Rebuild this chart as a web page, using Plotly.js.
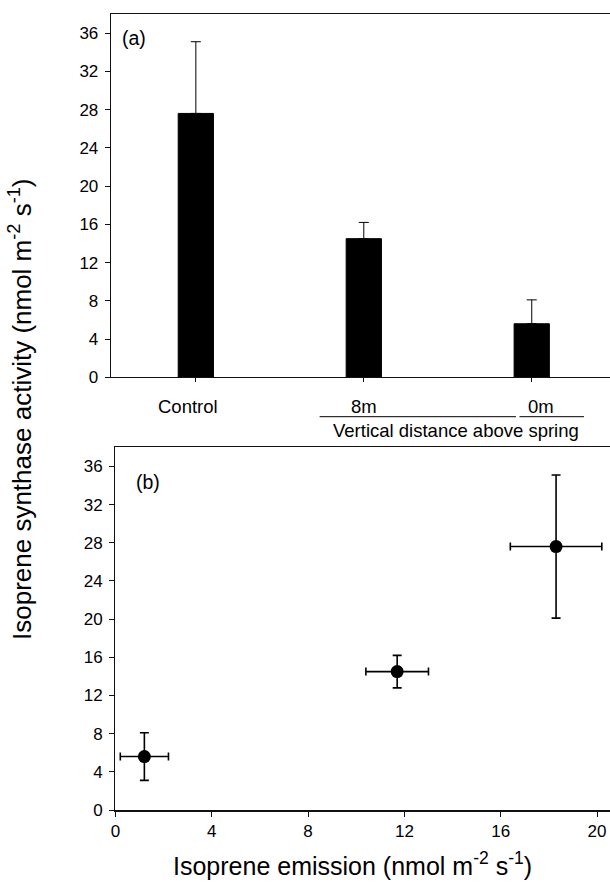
<!DOCTYPE html>
<html><head><meta charset="utf-8">
<script src="https://cdn.plot.ly/plotly-3.0.1.min.js"></script>
<style>html,body{margin:0;padding:0;background:#fff;overflow:hidden}</style>
</head><body><div id="chart" style="width:610px;height:886px"></div>
<script>
// ---- data ----
const categories = ['Control', '8m', '0m'];
const activity = [27.6, 14.5, 5.6];          // isoprene synthase activity
const activityErr = [7.5, 1.7, 2.5];
const activityErrMinus = [0, 0, 0];
const emission = [18.3, 11.7, 1.2];           // isoprene emission
const emissionErr = [1.9, 1.3, 1.0];
const yTicks = [0, 4, 8, 12, 16, 20, 24, 28, 32, 36];
const xTicks = [0, 4, 8, 12, 16, 20];

const W = 610, H = 886;
const FONT = 'Liberation Sans, Arial, sans-serif';
function P(px, py) { return {x: px / W, y: 1 - py / H, xref: 'paper', yref: 'paper'}; }

const traces = [
  {
    type: 'bar', x: categories, y: activity, xaxis: 'x', yaxis: 'y',
    width: 0.21,
    marker: {color: '#000', line: {color: '#000', width: 1}},
    error_y: {type: 'data', array: activityErr, arrayminus: activityErrMinus, symmetric: false,
              color: '#000', thickness: 1, width: 5},
    showlegend: false, hoverinfo: 'x+y'
  },
  {
    type: 'scatter', mode: 'markers', x: emission, y: activity, xaxis: 'x2', yaxis: 'y2',
    marker: {color: '#000', size: 13},
    error_y: {type: 'data', array: activityErr, color: '#000', thickness: 1.6, width: 4.5},
    error_x: {type: 'data', array: emissionErr, color: '#000', thickness: 1.6, width: 4},
    showlegend: false
  }
];

const axCommon = {
  showgrid: false, zeroline: false, showline: true, linecolor: '#111',
  ticks: 'outside', tickcolor: '#111', tickwidth: 1, automargin: false,
  tickfont: {family: FONT, size: 17, color: '#000'}
};

const labelShift = [-8, 0, 9];
const annotations = [];
categories.forEach((c, i) => {
  annotations.push({x: c, xref: 'x', y: 1 - 407 / H, yref: 'paper', text: c, showarrow: false,
    xshift: labelShift[i], xanchor: 'center', yanchor: 'middle',
    font: {family: FONT, size: 18.5, color: '#000'}});
});
annotations.push(Object.assign(P(455.5, 430), {text: 'Vertical distance above spring', showarrow: false,
  xanchor: 'center', yanchor: 'middle', font: {family: FONT, size: 18.5, color: '#000'}}));
annotations.push(Object.assign(P(134, 38), {text: '(a)', showarrow: false,
  xanchor: 'center', yanchor: 'middle', font: {family: FONT, size: 19.5, color: '#000'}}));
annotations.push(Object.assign(P(147.5, 482), {text: '(b)', showarrow: false,
  xanchor: 'center', yanchor: 'middle', font: {family: FONT, size: 19.5, color: '#000'}}));
annotations.push(Object.assign(P(20, 409), {text: 'Isoprene synthase activity (nmol m<sup>-2</sup> s<sup>-1</sup>)',
  showarrow: false, textangle: -90, xanchor: 'center', yanchor: 'middle',
  font: {family: FONT, size: 26, color: '#000'}}));
annotations.push(Object.assign(P(352, 864), {text: 'Isoprene emission (nmol m<sup>-2</sup> s<sup>-1</sup>)',
  showarrow: false, xanchor: 'center', yanchor: 'middle',
  font: {family: FONT, size: 25, color: '#000'}}));

const layout = {
  width: W, height: H,
  margin: {l: 0, r: 0, t: 0, b: 0, pad: 0},
  paper_bgcolor: '#fff', plot_bgcolor: '#fff',
  font: {family: FONT, color: '#000'},
  showlegend: false,
  xaxis: Object.assign({}, axCommon, {
    domain: [110.7 / W, 1], anchor: 'y', type: 'category', categoryorder: 'array', categoryarray: categories,
    range: [-0.507, 2.466], mirror: true, ticklen: 4, showticklabels: false, linewidth: 1
  }),
  yaxis: Object.assign({}, axCommon, {
    domain: [1 - 377.3 / H, 1 - 14 / H], anchor: 'x', range: [0, 38],
    tickvals: yTicks, ticklen: 5, linewidth: 1, ticklabelstandoff: 3
  }),
  xaxis2: Object.assign({}, axCommon, {
    domain: [115 / W, 1], anchor: 'y2', range: [-0.02, 20.54],
    tickvals: xTicks, ticklen: 5, mirror: true, linewidth: 1.5
  }),
  yaxis2: Object.assign({}, axCommon, {
    domain: [1 - 810 / H, 1 - 447.3 / H], anchor: 'x2', range: [0, 38],
    tickvals: yTicks, ticklen: 5, linewidth: 1, ticklabelstandoff: 3
  }),
  shapes: [
    {type: 'line', xref: 'x', yref: 'paper', x0: 0.737, x1: 1.906, y0: 1 - 416.7 / H, y1: 1 - 416.7 / H,
     line: {color: '#000', width: 1}},
    {type: 'line', xref: 'x', yref: 'paper', x0: 1.927, x1: 2.311, y0: 1 - 416.7 / H, y1: 1 - 416.7 / H,
     line: {color: '#000', width: 1}}
  ],
  annotations: annotations
};

Plotly.newPlot('chart', traces, layout, {displayModeBar: false, staticPlot: true});
</script>
</body></html>
